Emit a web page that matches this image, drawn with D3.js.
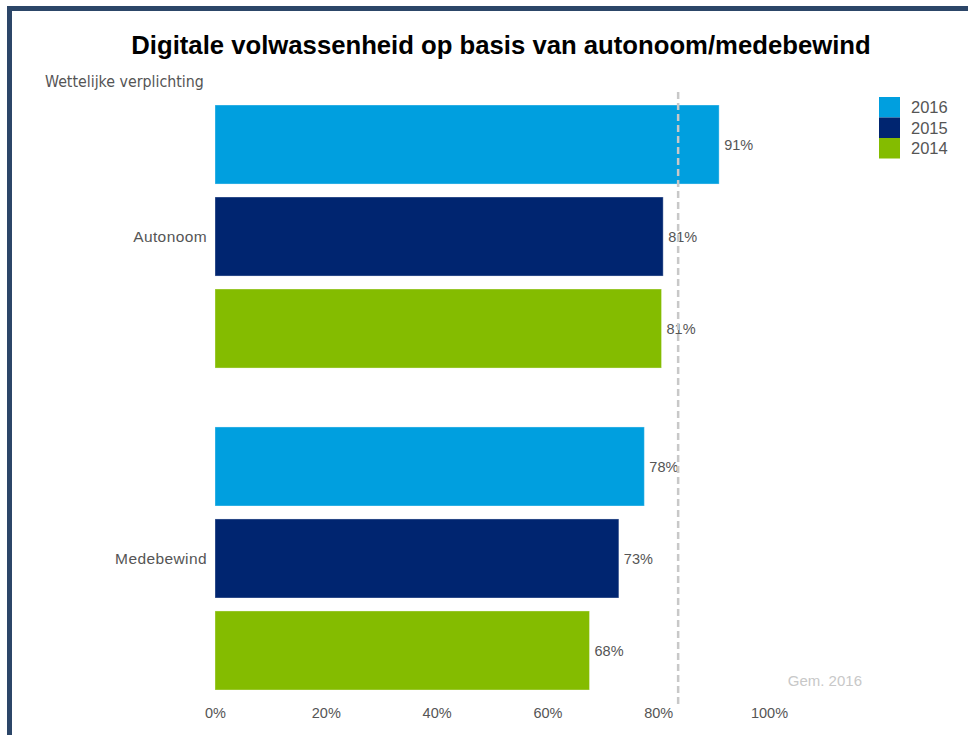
<!DOCTYPE html>
<html>
<head>
<meta charset="utf-8">
<script src="https://cdnjs.cloudflare.com/ajax/libs/d3/7.8.5/d3.min.js"></script>
<style>
  body { margin: 0; background: #fff; }
  svg { display: block; }
</style>
</head>
<body>
<div id="chart"></div>
<script>
// data
var groups = ["Autonoom", "Medebewind"];
var years = ["2016", "2015", "2014"];
var autonoom = [91.0, 80.9, 80.6];
var medebewind = [77.5, 72.9, 67.6];
var average2016 = 83.6;
var xTicks = [0, 20, 40, 60, 80, 100];
var colors = ["#009fdf", "#002570", "#84bc00"];

var values = { "Autonoom": autonoom, "Medebewind": medebewind };
var sans = "'Liberation Sans', Arial, sans-serif";

var svg = d3.select("#chart")
  .append("svg")
  .attr("width", 968)
  .attr("height", 735);

// frame (left + top)
svg.append("path")
  .attr("d", "M9.5,735 V8.5 H968")
  .attr("fill", "none")
  .attr("stroke", "#2c4668")
  .attr("stroke-width", 5);

svg.append("text")
  .attr("x", 501)
  .attr("y", 54)
  .attr("text-anchor", "middle")
  .style("font-family", sans)
  .style("font-weight", "bold")
  .style("font-size", "25.7px")
  .attr("fill", "#000")
  .text("Digitale volwassenheid op basis van autonoom/medebewind");

svg.append("text")
  .attr("x", 45)
  .attr("y", 87)
  .style("font-family", "'DejaVu Sans Condensed', 'Liberation Sans', sans-serif")
  .style("font-size", "15.8px")
  .attr("fill", "#555")
  .text("Wettelijke verplichting");

var x = d3.scaleLinear().domain([0, 100]).range([215, 769]);

var y0 = d3.scaleBand().domain(groups).range([105, 690]).paddingInner(0.183);
var y1 = d3.scaleBand().domain(years).range([0, y0.bandwidth()]).paddingInner(0.141);
var color = d3.scaleOrdinal().domain(years).range(colors);

var g = svg.selectAll("g.group")
  .data(groups)
  .enter()
  .append("g")
  .attr("class", "group")
  .attr("transform", function(d) { return "translate(0," + y0(d) + ")"; });

function rows(d) {
  return years.map(function(yr, i) { return { year: yr, value: values[d][i] }; });
}

g.selectAll("rect")
  .data(rows)
  .enter()
  .append("rect")
  .attr("x", x(0))
  .attr("y", function(d) { return y1(d.year); })
  .attr("width", function(d) { return x(d.value) - x(0); })
  .attr("height", y1.bandwidth())
  .attr("fill", function(d) { return color(d.year); })
  .attr("stroke", "rgba(255,255,255,0.35)")
  .attr("stroke-width", 1);

// group labels
g.append("text")
  .attr("x", 207)
  .attr("y", y0.bandwidth() / 2)
  .attr("dy", "0.35em")
  .attr("text-anchor", "end")
  .style("font-family", sans)
  .style("font-size", "15.5px")
  .style("letter-spacing", "0.4px")
  .attr("fill", "#555")
  .text(function(d) { return d; });

// average line
svg.append("line")
  .attr("x1", x(average2016))
  .attr("x2", x(average2016))
  .attr("y1", 92)
  .attr("y2", 706)
  .attr("stroke", "#c8c8c8")
  .attr("stroke-width", 2.5)
  .attr("stroke-dasharray", "7,4");

// value labels
g.selectAll("text.val")
  .data(rows)
  .enter()
  .append("text")
  .attr("class", "val")
  .attr("x", function(d) { return x(d.value) + 5; })
  .attr("y", function(d) { return y1(d.year) + y1.bandwidth() / 2; })
  .attr("dy", "0.35em")
  .style("font-family", sans)
  .style("font-size", "14.5px")
  .attr("fill", "#555")
  .text(function(d) { return Math.round(d.value) + "%"; });

// x axis
var axis = svg.append("g")
  .attr("transform", "translate(0,703)")
  .call(d3.axisBottom(x).tickValues(xTicks).tickSize(0).tickPadding(5)
    .tickFormat(function(d) { return d + "%"; }));
axis.select(".domain").remove();
axis.selectAll("text")
  .style("font-family", sans)
  .style("font-size", "14.5px")
  .attr("fill", "#555");

svg.append("text")
  .attr("x", 862)
  .attr("y", 686)
  .attr("text-anchor", "end")
  .style("font-family", sans)
  .style("font-size", "15px")
  .attr("fill", "#c8c8c8")
  .text("Gem. 2016");

// legend
var legend = svg.selectAll("g.legend")
  .data(years)
  .enter()
  .append("g")
  .attr("class", "legend")
  .attr("transform", function(d, i) { return "translate(879," + (97 + i * 20.5) + ")"; });

legend.append("rect")
  .attr("width", 21)
  .attr("height", 20.5)
  .attr("fill", function(d) { return color(d); });

legend.append("text")
  .attr("x", 32)
  .attr("y", 10.5)
  .attr("dy", "0.35em")
  .style("font-family", sans)
  .style("font-size", "16.5px")
  .attr("fill", "#555")
  .text(function(d) { return d; });
</script>
</body>
</html>
